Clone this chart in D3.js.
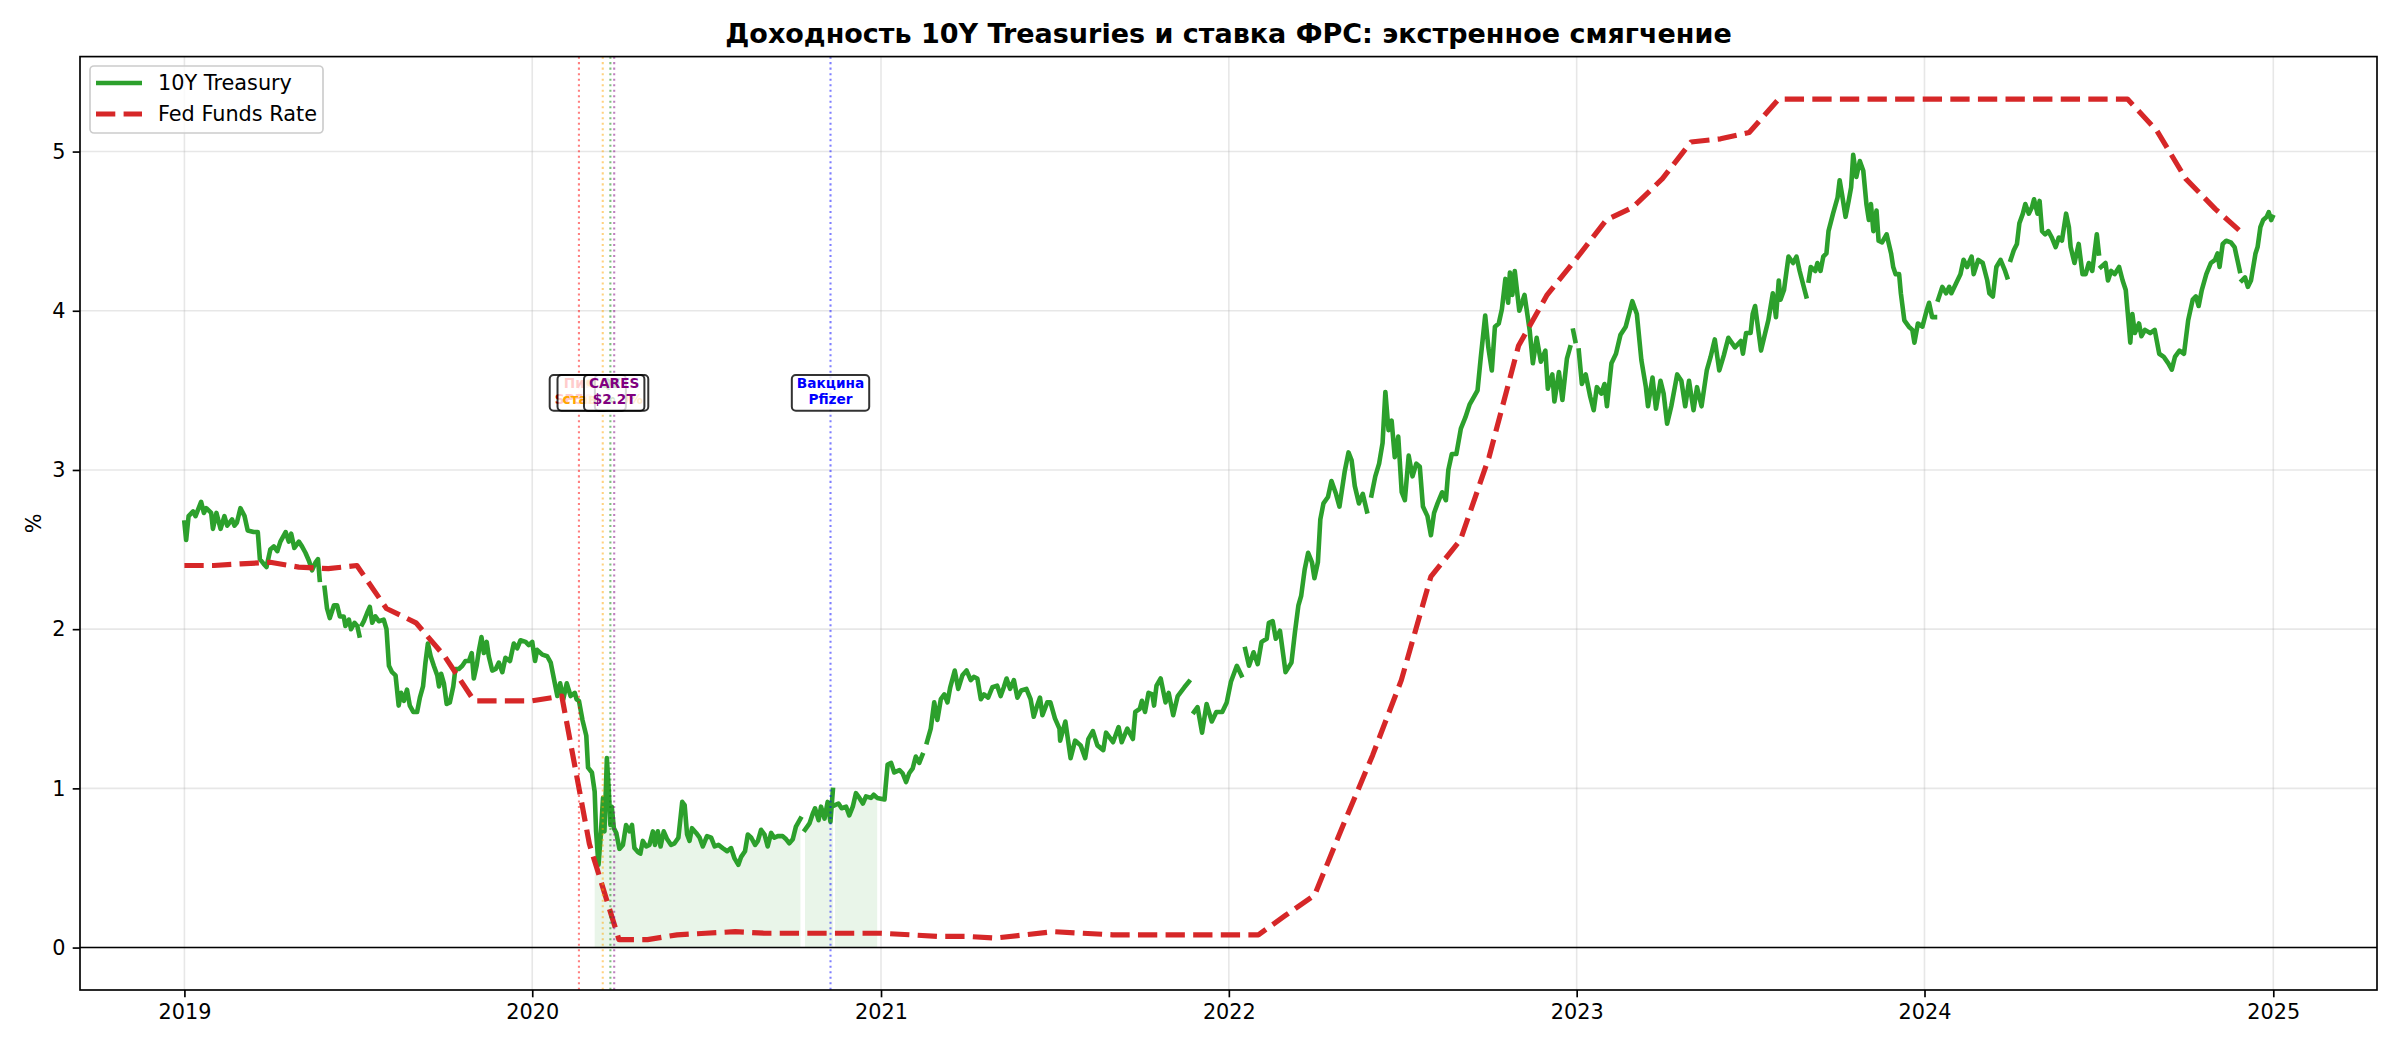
<!DOCTYPE html>
<html>
<head>
<meta charset="utf-8">
<script src="https://cdn.jsdelivr.net/npm/d3@7"></script>
<style>
  body { margin: 0; background: #fff; }
  text { font-family: "DejaVu Sans", sans-serif; }
</style>
</head>
<body>
<svg id="chart" width="2400" height="1050"></svg>
<script>
// 10Y treasury yield: offsets inside each year + values (null = gap)
const tsyOff2019 = [0.000,.005,.012,.025,.032,.048,.056,.063,.077,.082,
  .092,.104,.115,.123,.137,.144,.151,.161,.173,.182,
  .199,.211,.217,.228,.236,.247,.257,.267,.276,.291,
  .300,.307,.316,.329,.338,.348,.358,.367,.377,.384,
  .389,.395,.403,.410,.418,.430,.439,.447,.458,.463,
  .473,.479,.489,.497,.503,.506,.511,.516,.525,.533,
  .540,.549,.559,.573,.581,.588,.597,.607,.616,.623,
  .631,.640,.648,.658,.669,.677,.686,.693,.700,.708,
  .717,.727,.732,.738,.746,.754,.763,.773,.779,.789,
  .799,.808,.818,.826,.832,.840,.847,.854,.861,.869,
  .875,.885,.895,.904,.914,.923,.936,.947,.957,.966,
  .981,.990];
const tsyVal2019 = [2.67,2.56,2.71,2.74,2.71,2.80,2.73,2.76,2.73,2.63,
  2.73,2.63,2.71,2.65,2.69,2.65,2.67,2.76,2.71,2.62,
  2.61,2.61,2.44,2.41,2.39,2.50,2.52,2.49,2.55,2.61,
  2.55,2.60,2.51,2.55,2.52,2.48,2.43,2.37,2.42,2.44,
  2.31,null,2.26,2.13,2.07,2.15,2.15,2.08,2.08,2.02,
  2.06,2.00,2.04,2.02,1.96,null,2.03,2.05,2.10,2.14,
  2.04,2.08,2.05,2.06,2.00,1.77,1.73,1.71,1.52,1.60,
  1.55,1.62,1.52,1.48,1.48,1.57,1.64,1.79,1.91,1.83,
  1.77,1.71,1.64,1.72,1.66,1.53,1.54,1.64,1.75,1.75,
  1.77,1.80,1.80,1.85,1.69,1.77,1.87,1.95,1.85,1.92,
  1.83,1.74,1.75,1.79,1.73,1.82,1.80,1.91,1.88,1.93,
  1.92,1.90];

const tsyOff2020 = [0.000,.008,.014,.029,.043,.053,.062,.072,.080,.089,
  .099,.110,.122,.127,.134,.144,.155,.160,.171,.179,
  .183,.190,.196,.203,.207,.214,.220,.224,.228,.234,
  .241,.250,.260,.269,.279,.286,.293,.303,.310,.317,
  .327,.336,.346,.352,.360,.368,.377,.387,.398,.408,
  .419,.430,.437,.444,.451,.458,.470,.480,.489,.501,
  .513,.523,.534,.546,.559,.570,.580,.591,.599,.610,
  .618,.628,.639,.647,.656,.666,.675,.685,.694,.704,
  .718,.728,.737,.747,.756,.769,.774,.782,.795,.804,
  .811,.821,.828,.838,.847,.855,.862,.865,.868,.878,
  .887,.900,.909,.919,.928,.938,.948,.957,.971,.979,
  .989];
const tsyVal2020 = [1.92,1.80,1.87,1.84,1.83,1.79,1.69,1.58,1.66,1.56,
  1.66,1.58,1.60,1.56,1.55,1.43,1.33,1.13,1.10,0.98,
  0.73,0.52,0.69,0.94,0.73,1.19,0.96,0.77,0.885,0.75,
  0.72,0.62,0.645,0.77,0.73,0.77,0.625,0.60,0.59,0.67,
  0.635,0.645,0.73,0.645,0.73,0.635,0.73,0.68,0.645,0.655,
  0.69,0.915,0.895,0.71,0.67,0.75,0.72,0.69,0.635,0.70,
  0.69,0.635,0.645,0.625,0.605,0.625,0.56,0.52,0.57,0.605,
  0.71,0.69,0.645,0.67,0.74,0.71,0.635,0.72,0.69,0.70,
  0.70,0.68,0.655,0.68,0.76,0.81,null,0.74,0.78,0.84,
  0.875,0.80,0.885,0.81,0.915,0.79,0.99,null,0.895,0.905,
  0.875,0.885,0.83,0.885,0.97,0.94,0.905,0.95,0.94,0.96,
  0.94];

const tsyOff2021 = [.010,.019,.029,.038,.053,.062,.072,.081,.091,.100,
  .110,.119,.124,.132,.143,.153,.162,.172,.182,.191,
  .199,.212,.222,.234,.246,.258,.267,.277,.287,.296,
  .308,.320,.334,.344,.353,.361,.371,.382,.392,.403,
  .418,.430,.439,.449,.457,.464,.478,.487,.500,.513,
  .515,.530,.545,.558,.574,.587,.596,.609,.622,.639,
  .647,.667,.683,.692,.708,.724,.731,.744,.750,.759,
  .769,.780,.785,.792,.804,.818,.827,.840,.853,.872,
  .885,.890,.900,.910,.923,.936,.951,.964,.981,.994];
const tsyVal2021 = [0.93,1.15,1.16,1.10,1.115,1.095,1.04,1.095,1.125,1.20,
  1.16,1.21,null,1.29,1.375,1.54,1.43,1.56,1.59,1.54,
  1.635,1.74,1.625,1.71,1.74,1.68,1.70,1.69,1.56,1.59,
  1.57,1.635,1.645,1.58,1.635,1.69,1.625,1.68,1.57,1.615,
  1.625,1.56,1.45,1.52,1.57,1.46,1.54,1.54,1.44,1.375,
  1.30,1.42,1.19,1.30,1.27,1.19,1.31,1.36,1.27,1.24,
  1.35,1.29,1.385,1.29,1.375,1.31,1.48,1.50,1.55,1.48,
  1.60,1.59,1.52,1.645,1.69,1.54,1.60,1.46,1.58,1.635,
  1.67,null,1.48,1.51,1.35,1.53,1.42,1.48,1.48,1.54];

const tsyOff2022 = [.006,.023,.036,.041,.047,.058,.071,.083,.094,.109,
  .115,.126,.135,.147,.163,.180,.190,.200,.208,.218,
  .228,.239,.246,.256,.263,.272,.285,.295,.308,.318,
  .333,.344,.353,.362,.374,.385,.397,.401,.410,.421,
  .432,.442,.450,.459,.468,.477,.487,.497,.506,.517,
  .528,.539,.549,.558,.571,.581,.590,.600,.613,.624,
  .631,.641,.654,.667,.680,.692,.705,.715,.724,.737,
  .746,.756,.765,.776,.785,.795,.803,.808,.815,.822,
  .835,.850,.865,.874,.885,.897,.910,.917,.930,.936,
  .949,.959,.972,.981,.986,.990,.996];
const tsyVal2022 = [1.67,1.77,1.71,null,1.875,1.77,1.855,1.78,1.92,1.94,
  2.04,2.05,1.94,1.99,1.73,1.79,1.98,2.15,2.21,2.375,
  2.48,2.42,2.32,2.42,2.69,2.79,2.83,2.93,2.85,2.77,
  2.99,3.11,3.06,2.90,2.79,2.85,2.74,null,2.84,2.96,
  3.04,3.17,3.49,3.25,3.31,3.08,3.21,2.86,2.81,3.09,
  2.96,3.04,3.02,2.77,2.71,2.59,2.73,2.79,2.86,2.81,
  3.00,3.10,3.10,3.26,3.33,3.41,3.46,3.50,3.70,3.97,
  3.77,3.625,3.90,3.92,4.01,4.20,4.05,4.24,4.10,4.25,
  4.00,4.10,3.875,3.67,3.83,3.68,3.75,3.51,3.60,3.43,
  3.615,3.44,3.70,3.77,null,3.875,3.81];

const tsyOff2023 = [.001,.006,.015,.026,.039,.049,.058,.071,.080,.087,
  .100,.113,.126,.141,.160,.173,.186,.199,.205,.218,
  .228,.241,.250,.260,.272,.289,.301,.312,.323,.336,
  .346,.359,.374,.385,.397,.410,.423,.436,.455,.472,
  .478,.487,.500,.506,.513,.530,.542,.551,.564,.573,
  .581,.586,.596,.609,.622,.632,.641,.660,.663,.667,
  .673,.686,.692,.701,.709,.718,.724,.737,.750,.756,
  .763,.773,.782,.789,.795,.804,.814,.824,.833,.840,
  .846,.853,.862,.868,.878,.891,.904,.910,.917,.927,
  .932,.942,.955,.965,.971,.981,.994];
const tsyVal2023 = [null,3.75,3.54,3.60,3.46,3.375,3.52,3.48,3.54,3.40,
  3.67,3.73,3.85,3.90,4.06,3.98,3.69,3.52,3.40,3.58,
  3.385,3.56,3.48,3.29,3.40,3.60,3.56,3.40,3.56,3.375,
  3.52,3.40,3.625,3.71,3.82,3.625,3.72,3.83,3.77,3.81,
  3.73,3.86,3.86,3.98,4.03,3.75,3.86,3.94,4.11,3.96,
  4.19,4.07,4.13,4.34,4.30,4.34,4.25,4.09,null,4.19,
  4.275,4.25,4.30,4.25,4.34,4.36,4.50,4.61,4.71,4.82,
  4.73,4.59,4.69,4.775,4.98,4.84,4.94,4.88,4.67,4.57,
  4.67,4.50,4.63,4.44,4.43,4.48,4.36,4.275,4.23,4.23,
  4.11,3.94,3.90,3.88,3.80,3.92,3.90];

const tsyOff2024 = [.006,.013,.022,.030,.032,.039,.051,.062,.071,.077,
  .090,.103,.112,.122,.135,.141,.154,.167,.180,.186,
  .196,.206,.218,.231,.237,.240,.247,.256,.265,.272,
  .282,.289,.299,.308,.314,.324,.330,.337,.346,.355,
  .365,.376,.385,.394,.406,.414,.419,.430,.442,.453,
  .462,.471,.481,.494,.500,.503,.506,.519,.526,.535,
  .545,.558,.568,.577,.583,.590,.596,.603,.615,.622,
  .632,.647,.660,.673,.686,.699,.709,.718,.731,.744,
  .756,.769,.778,.786,.795,.808,.821,.833,.840,.846,
  .855,.865,.878,.889,.897,.904,.907,.910,.919,.927,
  .936,.949,.955,.963,.971,.981,.987,.994,.998];
const tsyVal2024 = [4.00,4.05,3.96,3.96,null,4.07,4.15,4.11,4.15,4.11,
  4.17,4.23,4.32,4.275,4.34,4.23,4.32,4.30,4.19,4.11,
  4.09,4.275,4.32,4.25,4.21,null,4.32,4.38,4.42,4.55,
  4.61,4.67,4.61,4.65,4.70,4.61,4.69,4.50,4.48,4.50,
  4.46,4.40,4.46,4.44,4.61,4.525,4.40,4.30,4.42,4.23,
  4.23,4.30,4.25,4.48,4.36,null,4.275,4.30,4.19,4.25,
  4.23,4.275,4.19,4.13,3.98,3.80,3.98,3.86,3.92,3.84,
  3.88,3.86,3.88,3.73,3.71,3.67,3.63,3.71,3.75,3.73,
  3.94,4.07,4.09,4.03,4.13,4.23,4.30,4.32,4.36,4.275,
  4.42,4.44,4.43,4.40,4.32,4.25,null,4.19,4.21,4.15,
  4.19,4.36,4.40,4.525,4.57,4.59,4.62,4.57,4.59];

// effective fed funds rate, monthly from Jan 2019
const fedStart = "2019-01-01";
const fedVals = [2.40,2.40,2.41,2.42,2.39,2.38,2.40,2.13,2.04,1.83,1.55,1.55,
  1.55,1.58,0.65,0.05,0.05,0.08,0.09,0.10,0.09,0.09,0.09,0.09,
  0.09,0.08,0.07,0.07,0.06,0.08,0.10,0.09,0.08,0.08,0.08,0.08,
  0.08,0.08,0.20,0.33,0.77,1.21,1.68,2.33,2.56,3.08,3.78,4.10,
  4.33,4.57,4.65,4.83,5.06,5.08,5.12,5.33,5.33,5.33,5.33,5.33,
  5.33,5.33,5.33,5.33,5.33,5.33,5.33,5.33,5.13,4.83,4.64,4.48];

// emergency-easing window shaded under the yield
const shadeStart = "2020-03-04";
const shadeEnd = "2021-01-04";

const eventDates = ["2020-02-19", "2020-03-15", "2020-03-23", "2020-03-27", "2020-11-09"];
const eventLabels = [["Пик", "SP500"], ["ФРС", "ставка 0%"], ["QE", "∞"], ["CARES", "$2.2T"], ["Вакцина", "Pfizer"]];
const eventColors = ["red", "orange", "green", "purple", "blue"];
const labelLevel = 3.5;

const seriesNames = ["10Y Treasury", "Fed Funds Rate"];
const titleText = "Доходность 10Y Treasuries и ставка ФРС: экстренное смягчение";

// ---------------------------------------------------------------
var L = 80, R = 2377, T = 56.6, B = 990;
var GREEN = "#2ca02c", RED = "#d62728";
var svg = d3.select("#chart");
var parse = d3.utcParse("%Y-%m-%d");

function decYear(t) {
	var yr = Math.floor(t);
	var a = Date.UTC(yr, 0, 1), b = Date.UTC(yr + 1, 0, 1);
	return new Date(a + (t - yr) * (b - a));
}

var parts = [
	[2019, tsyOff2019, tsyVal2019], [2020, tsyOff2020, tsyVal2020],
	[2021, tsyOff2021, tsyVal2021], [2022, tsyOff2022, tsyVal2022],
	[2023, tsyOff2023, tsyVal2023], [2024, tsyOff2024, tsyVal2024]
];
var tsy = [];
parts.forEach(function(p) {
	p[1].forEach(function(o, i) { tsy.push({date: decYear(p[0] + o), v: p[2][i]}); });
});

var f0 = parse(fedStart);
var fed = fedVals.map(function(v, i) {
	return {date: new Date(Date.UTC(f0.getUTCFullYear(), f0.getUTCMonth() + i, 1)), v: v};
});

// matplotlib-like 5% margins
var allDates = tsy.map(function(d){ return +d.date }).concat(fed.map(function(d){ return +d.date }));
var dLo = d3.min(allDates), dHi = d3.max(allDates), dPad = (dHi - dLo) * 0.05;
var x = d3.scaleUtc().domain([new Date(dLo - dPad), new Date(dHi + dPad)]).range([L, R]);

var allV = tsy.filter(function(d){ return d.v != null }).map(function(d){ return d.v })
	.concat(fedVals).concat([0]);
var vLo = d3.min(allV), vHi = d3.max(allV), vPad = (vHi - vLo) * 0.05;
var y = d3.scaleLinear().domain([vLo - vPad, vHi + vPad]).range([B, T]);

var yearTicks = x.ticks(d3.utcYear.every(1));
var yTicks = d3.range(0, 6);

// grid
var grid = svg.append("g").attr("stroke", "#b0b0b0").attr("stroke-opacity", 0.3).attr("stroke-width", 1.6);
grid.selectAll(".gx").data(yearTicks).enter().append("line")
	.attr("x1", function(d){ return x(d) }).attr("x2", function(d){ return x(d) })
	.attr("y1", T).attr("y2", B);
grid.selectAll(".gy").data(yTicks).enter().append("line")
	.attr("x1", L).attr("x2", R)
	.attr("y1", function(d){ return y(d) }).attr("y2", function(d){ return y(d) });

// shaded window
var s0 = parse(shadeStart), s1 = parse(shadeEnd);
var shade = tsy.filter(function(d){ return d.date >= s0 && d.date <= s1 });
svg.append("path").datum(shade)
	.attr("fill", GREEN).attr("fill-opacity", 0.1)
	.attr("d", d3.area().defined(function(d){ return d.v != null })
		.x(function(d){ return x(d.date) }).y0(y(0)).y1(function(d){ return y(d.v) }));

// series
svg.append("path").datum(tsy)
	.attr("fill", "none").attr("stroke", GREEN).attr("stroke-width", 4.6)
	.attr("stroke-linejoin", "round").attr("stroke-linecap", "square")
	.attr("d", d3.line().defined(function(d){ return d.v != null })
		.x(function(d){ return x(d.date) }).y(function(d){ return y(d.v) }));

svg.append("path").datum(fed)
	.attr("fill", "none").attr("stroke", RED).attr("stroke-width", 5.2)
	.attr("stroke-dasharray", "19.3,8.3").attr("stroke-linejoin", "round")
	.attr("d", d3.line().x(function(d){ return x(d.date) }).y(function(d){ return y(d.v) }));

// event lines
var events = eventDates.map(function(d, i) {
	return {date: parse(d), lines: eventLabels[i], color: eventColors[i]};
});
svg.selectAll(".ev").data(events).enter().append("line")
	.attr("x1", function(d){ return x(d.date) }).attr("x2", function(d){ return x(d.date) })
	.attr("y1", T).attr("y2", B)
	.attr("stroke", function(d){ return d.color }).attr("stroke-opacity", 0.5)
	.attr("stroke-width", 2.08).attr("stroke-dasharray", "2.08,3.43");

// zero line
svg.append("line").attr("x1", L).attr("x2", R).attr("y1", y(0)).attr("y2", y(0))
	.attr("stroke", "#000").attr("stroke-width", 1.6);

// event boxes
events.forEach(function(ev) {
	var g = svg.append("g");
	var cx = x(ev.date), cy = y(labelLevel);
	var t = g.append("text").attr("text-anchor", "middle").attr("font-weight", "bold")
		.attr("font-size", 13.7).attr("fill", ev.color);
	t.append("tspan").attr("x", cx).attr("y", cy - 2.7).text(ev.lines[0]);
	t.append("tspan").attr("x", cx).attr("y", cy + 13.9).text(ev.lines[1]);
	var bb = t.node().getBBox();
	g.insert("rect", "text")
		.attr("x", bb.x - 5).attr("y", cy - 15.4)
		.attr("width", bb.width + 10).attr("height", 35.7)
		.attr("rx", 4).attr("fill", "#fff").attr("stroke", "#000")
		.attr("stroke-width", 2).attr("opacity", 0.8);
});

// frame
svg.append("rect").attr("x", L).attr("y", T).attr("width", R - L).attr("height", B - T)
	.attr("fill", "none").attr("stroke", "#000").attr("stroke-width", 1.67);

// axes
var xAxis = svg.append("g").attr("transform", "translate(0," + B + ")")
	.call(d3.axisBottom(x).tickValues(yearTicks).tickFormat(d3.utcFormat("%Y"))
		.tickSize(7.3).tickPadding(7.3));
var yAxis = svg.append("g").attr("transform", "translate(" + L + ",0)")
	.call(d3.axisLeft(y).tickValues(yTicks).tickFormat(d3.format("d"))
		.tickSize(7.3).tickPadding(7.3));
[xAxis, yAxis].forEach(function(a) {
	a.select(".domain").remove();
	a.selectAll(".tick line").attr("stroke", "#000").attr("stroke-width", 1.67);
	a.selectAll(".tick text").attr("font-family", "DejaVu Sans").attr("font-size", 20.8).attr("fill", "#000");
});

svg.append("text").attr("transform", "translate(34," + ((T + B) / 2) + ") rotate(-90)")
	.attr("text-anchor", "middle").attr("dy", "0.35em").attr("font-size", 20.8).text("%");

svg.append("text").attr("x", (L + R) / 2).attr("y", 43).attr("text-anchor", "middle")
	.attr("font-size", 27).attr("font-weight", "bold").text(titleText);

// legend
var lg = svg.append("g");
lg.append("rect").attr("x", 90).attr("y", 66).attr("width", 233).attr("height", 67).attr("rx", 4)
	.attr("fill", "#fff").attr("fill-opacity", 0.8).attr("stroke", "#cccccc").attr("stroke-width", 1.67);
var legY = [83, 114];
seriesNames.forEach(function(name, i) {
	lg.append("line").attr("x1", 96).attr("x2", 142).attr("y1", legY[i]).attr("y2", legY[i])
		.attr("stroke", i == 0 ? GREEN : RED).attr("stroke-width", i == 0 ? 4.6 : 5.2)
		.attr("stroke-dasharray", i == 0 ? null : "19.3,8.3");
	lg.append("text").attr("x", 158).attr("y", legY[i]).attr("dy", "0.34em")
		.attr("font-size", 20.8).text(name);
});
</script>
</body>
</html>
